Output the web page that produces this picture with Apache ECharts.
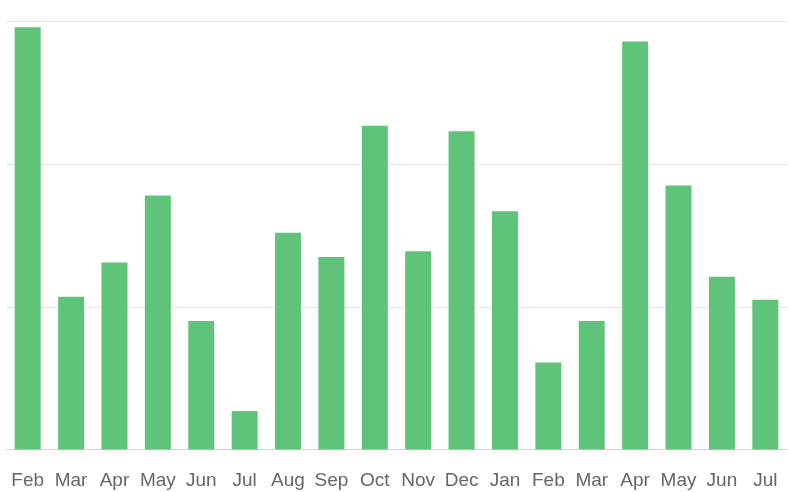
<!DOCTYPE html>
<html>
<head>
<meta charset="utf-8">
<script src="https://cdn.jsdelivr.net/npm/echarts@6/dist/echarts.min.js"></script>
<style>
  html, body { margin: 0; padding: 0; background: #fff; }
  #chart { width: 789px; height: 492px; }
</style>
</head>
<body>
<div id="chart"></div>
<script>
// categories along the x axis
var months = ['Feb', 'Mar', 'Apr', 'May', 'Jun', 'Jul', 'Aug', 'Sep', 'Oct', 'Nov', 'Dec', 'Jan',
  'Feb', 'Mar', 'Apr', 'May', 'Jun', 'Jul']
// bar values
var values = [296, 107, 131, 178, 90, 27, 152, 135, 227, 139, 223, 167,
  61, 90, 286, 185, 121, 105]

var chart = echarts.init(document.getElementById('chart'))
var option = {
  animation: false,
  grid: {
    left: 6,
    right: 2,
    top: 21.5,
    bottom: 42.5
  },
  xAxis: {
    type: 'category',
    data: months,
    axisLine: { lineStyle: { color: '#ccd6eb', width: 1 } },
    axisTick: { show: false },
    axisLabel: {
      color: '#666666',
      fontSize: 19,
      fontFamily: 'Liberation Sans, Arial, sans-serif',
      margin: 22,
      interval: 0
    }
  },
  yAxis: {
    type: 'value',
    min: 0,
    max: 300,
    interval: 100,
    axisLabel: { show: false },
    axisLine: { show: false },
    axisTick: { show: false },
    splitLine: { lineStyle: { color: '#e6e6e6', width: 1 } }
  },
  series: [
    {
      type: 'bar',
      data: values,
      barWidth: 26,
      itemStyle: { color: '#5fc479' }
    }
  ]
}
chart.setOption(option)
</script>
</body>
</html>
